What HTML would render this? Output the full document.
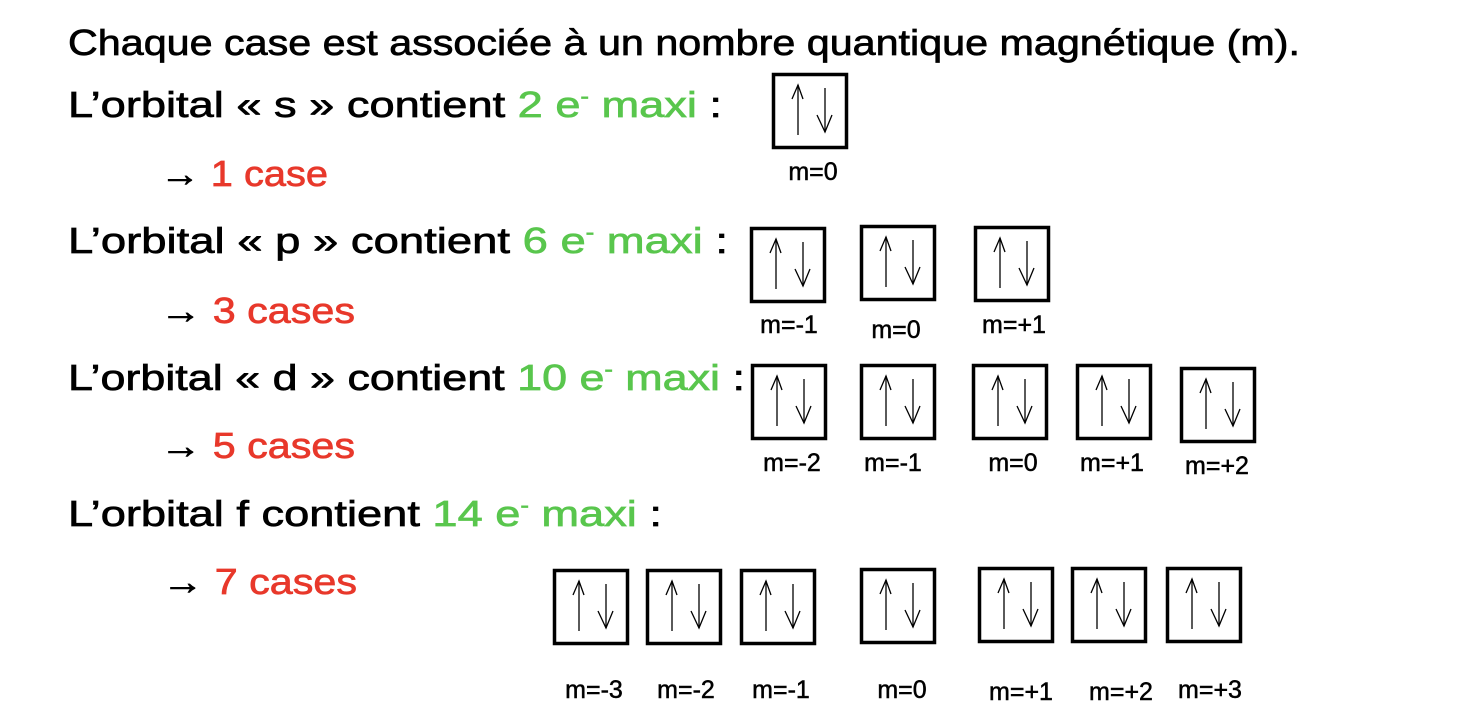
<!DOCTYPE html>
<html><head><meta charset="utf-8"><style>
html,body{margin:0;padding:0;background:#fff;width:1460px;height:724px;overflow:hidden}
svg{display:block}
text{font-family:"Liberation Sans",sans-serif;fill:#000;stroke:#000;stroke-width:0.7}
.t{font-size:36px}
.g{fill:#59c64d;stroke:#59c64d}
.r{fill:#e8382b;stroke:#e8382b}
.m{font-size:25px;stroke-width:0.5}
</style></head><body>
<svg width="1460" height="724" viewBox="0 0 1460 724">
<text class="t" x="68" y="55" textLength="1232" lengthAdjust="spacingAndGlyphs">Chaque case est associée à un nombre quantique magnétique (m).</text>

<text class="t" x="68" y="117" textLength="654" lengthAdjust="spacingAndGlyphs">L’orbital « s » contient <tspan class="g">2 e</tspan><tspan class="g" dy="-14" font-size="20">-</tspan><tspan class="g" dy="14"> maxi</tspan> :</text>
<text class="t" x="160" y="186" textLength="168" lengthAdjust="spacingAndGlyphs">→ <tspan class="r">1 case</tspan></text>

<text class="t" x="68" y="253" textLength="660" lengthAdjust="spacingAndGlyphs">L’orbital « p » contient <tspan class="g">6 e</tspan><tspan class="g" dy="-14" font-size="20">-</tspan><tspan class="g" dy="14"> maxi</tspan> :</text>
<text class="t" x="160" y="323" textLength="195" lengthAdjust="spacingAndGlyphs">→ <tspan class="r">3 cases</tspan></text>

<text class="t" x="68" y="390" textLength="677" lengthAdjust="spacingAndGlyphs">L’orbital « d » contient <tspan class="g">10 e</tspan><tspan class="g" dy="-14" font-size="20">-</tspan><tspan class="g" dy="14"> maxi</tspan> :</text>
<text class="t" x="160" y="458" textLength="195" lengthAdjust="spacingAndGlyphs">→ <tspan class="r">5 cases</tspan></text>

<text class="t" x="68" y="526" textLength="594" lengthAdjust="spacingAndGlyphs">L’orbital f contient <tspan class="g">14 e</tspan><tspan class="g" dy="-14" font-size="20">-</tspan><tspan class="g" dy="14"> maxi</tspan> :</text>
<text class="t" x="162" y="594" textLength="195" lengthAdjust="spacingAndGlyphs">→ <tspan class="r">7 cases</tspan></text>

<defs>
<g id="bx">
<rect x="1.5" y="1.5" width="73" height="73" fill="none" stroke="#000" stroke-width="3.5"/>
<g fill="none" stroke="#000" stroke-width="1.3">
<line x1="26" y1="12" x2="26" y2="62"/><polyline points="20,26 26,12 31,26"/>
<line x1="53" y1="15" x2="53" y2="59"/><polyline points="45,42 53,59 60,42"/>
</g>
</g>
</defs>
<use href="#bx" x="772" y="73"/>
<use href="#bx" x="750" y="227"/><use href="#bx" x="860" y="225"/><use href="#bx" x="974" y="226"/>
<use href="#bx" x="751" y="364"/><use href="#bx" x="860" y="364"/><use href="#bx" x="972" y="364"/><use href="#bx" x="1076" y="364"/><use href="#bx" x="1180" y="367"/>
<use href="#bx" x="553" y="569"/><use href="#bx" x="646" y="569"/><use href="#bx" x="740" y="569"/><use href="#bx" x="860" y="568"/><use href="#bx" x="978" y="567"/><use href="#bx" x="1071" y="567"/><use href="#bx" x="1166" y="567"/>

<g text-anchor="middle">
<text class="m" x="813" y="180">m=0</text>
<text class="m" x="789" y="333">m=-1</text><text class="m" x="896" y="338">m=0</text><text class="m" x="1014" y="333">m=+1</text>
<text class="m" x="792" y="471">m=-2</text><text class="m" x="893" y="471">m=-1</text><text class="m" x="1013" y="471">m=0</text><text class="m" x="1112" y="471">m=+1</text><text class="m" x="1217" y="474">m=+2</text>
<text class="m" x="594" y="698">m=-3</text><text class="m" x="686" y="698">m=-2</text><text class="m" x="781" y="698">m=-1</text><text class="m" x="902" y="698">m=0</text><text class="m" x="1021" y="700">m=+1</text><text class="m" x="1121" y="700">m=+2</text><text class="m" x="1210" y="698">m=+3</text>
</g>
</svg>
</body></html>
